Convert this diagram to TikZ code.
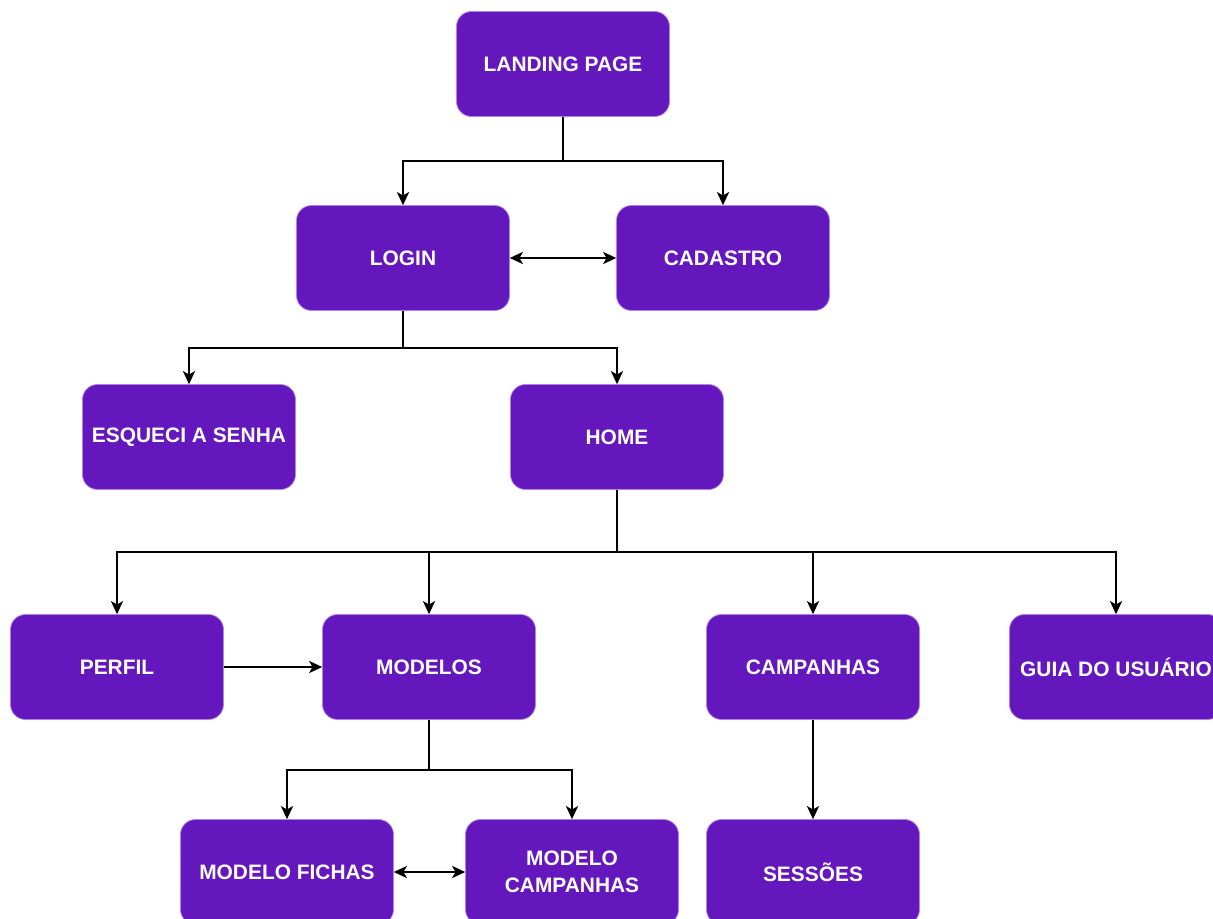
\documentclass[tikz,border=0pt]{standalone}
\usepackage{fontspec}
\setmainfont{Liberation Sans}
\usetikzlibrary{arrows.meta}
\definecolor{boxpurple}{RGB}{101,23,190}
\definecolor{boxedge}{RGB}{176,130,230}
\tikzset{
  screen/.style={fill=boxpurple, draw=boxedge, line width=0.4pt, rounded corners=0.3cm,
    minimum width=4.26cm, minimum height=2.1cm, inner sep=0pt, align=center,
    text=white, font=\fontsize{11.9}{15.4}\selectfont\bfseries},
  link/.style={line width=0.8pt, -{Stealth[length=7.5pt,width=7pt,inset=2pt]}},
  twoway/.style={line width=0.8pt, {Stealth[length=7.5pt,width=7pt,inset=2pt]}-{Stealth[length=7.5pt,width=7pt,inset=2pt]}}
}

\begin{document}
\begin{tikzpicture}[x=0.02cm,y=-0.02cm]
\useasboundingbox (0,0) rectangle (1213,919);
\clip (0,0) rectangle (1213,919);

\node[screen] (landing) at (563,64) {LANDING PAGE};
\node[screen] (login) at (403,258) {LOGIN};
\node[screen] (cadastro) at (723,258) {CADASTRO};
\node[screen] (esqueci) at (189,437) {ESQUECI A SENHA};
\node[screen] (home) at (617,437) {HOME};
\node[screen] (perfil) at (117,667) {PERFIL};
\node[screen] (modelos) at (429,667) {MODELOS};
\node[screen] (campanhas) at (813,667) {CAMPANHAS};
\node[screen] (guia) at (1116,667) {GUIA DO USU\'ARIO};
\node[screen] (fichas) at (287,872) {MODELO FICHAS};
\node[screen] (mcampanhas) at (572,872) {MODELO\\CAMPANHAS};
\node[screen] (sessoes) at (813,872) {SESSÕES};

\draw[link] (landing.south) -- ++(0,44) -| (login.north);
\draw[link] (landing.south) -- ++(0,44) -| (cadastro.north);
\draw[twoway] (login.east) -- (cadastro.west);

\draw[link] (login.south) -- ++(0,37) -| (esqueci.north);
\draw[link] (login.south) -- ++(0,37) -| (home.north);

\draw[link] (home.south) -- ++(0,62) -| (perfil.north);
\draw[link] (home.south) -- ++(0,62) -| (modelos.north);
\draw[link] (home.south) -- ++(0,62) -| (campanhas.north);
\draw[link] (home.south) -- ++(0,62) -| (guia.north);
\draw[link] (perfil.east) -- (modelos.west);

\draw[link] (modelos.south) -- ++(0,50) -| (fichas.north);
\draw[link] (modelos.south) -- ++(0,50) -| (mcampanhas.north);
\draw[twoway] (fichas.east) -- (mcampanhas.west);
\draw[link] (campanhas.south) -- (sessoes.north);

\end{tikzpicture}
\end{document}
